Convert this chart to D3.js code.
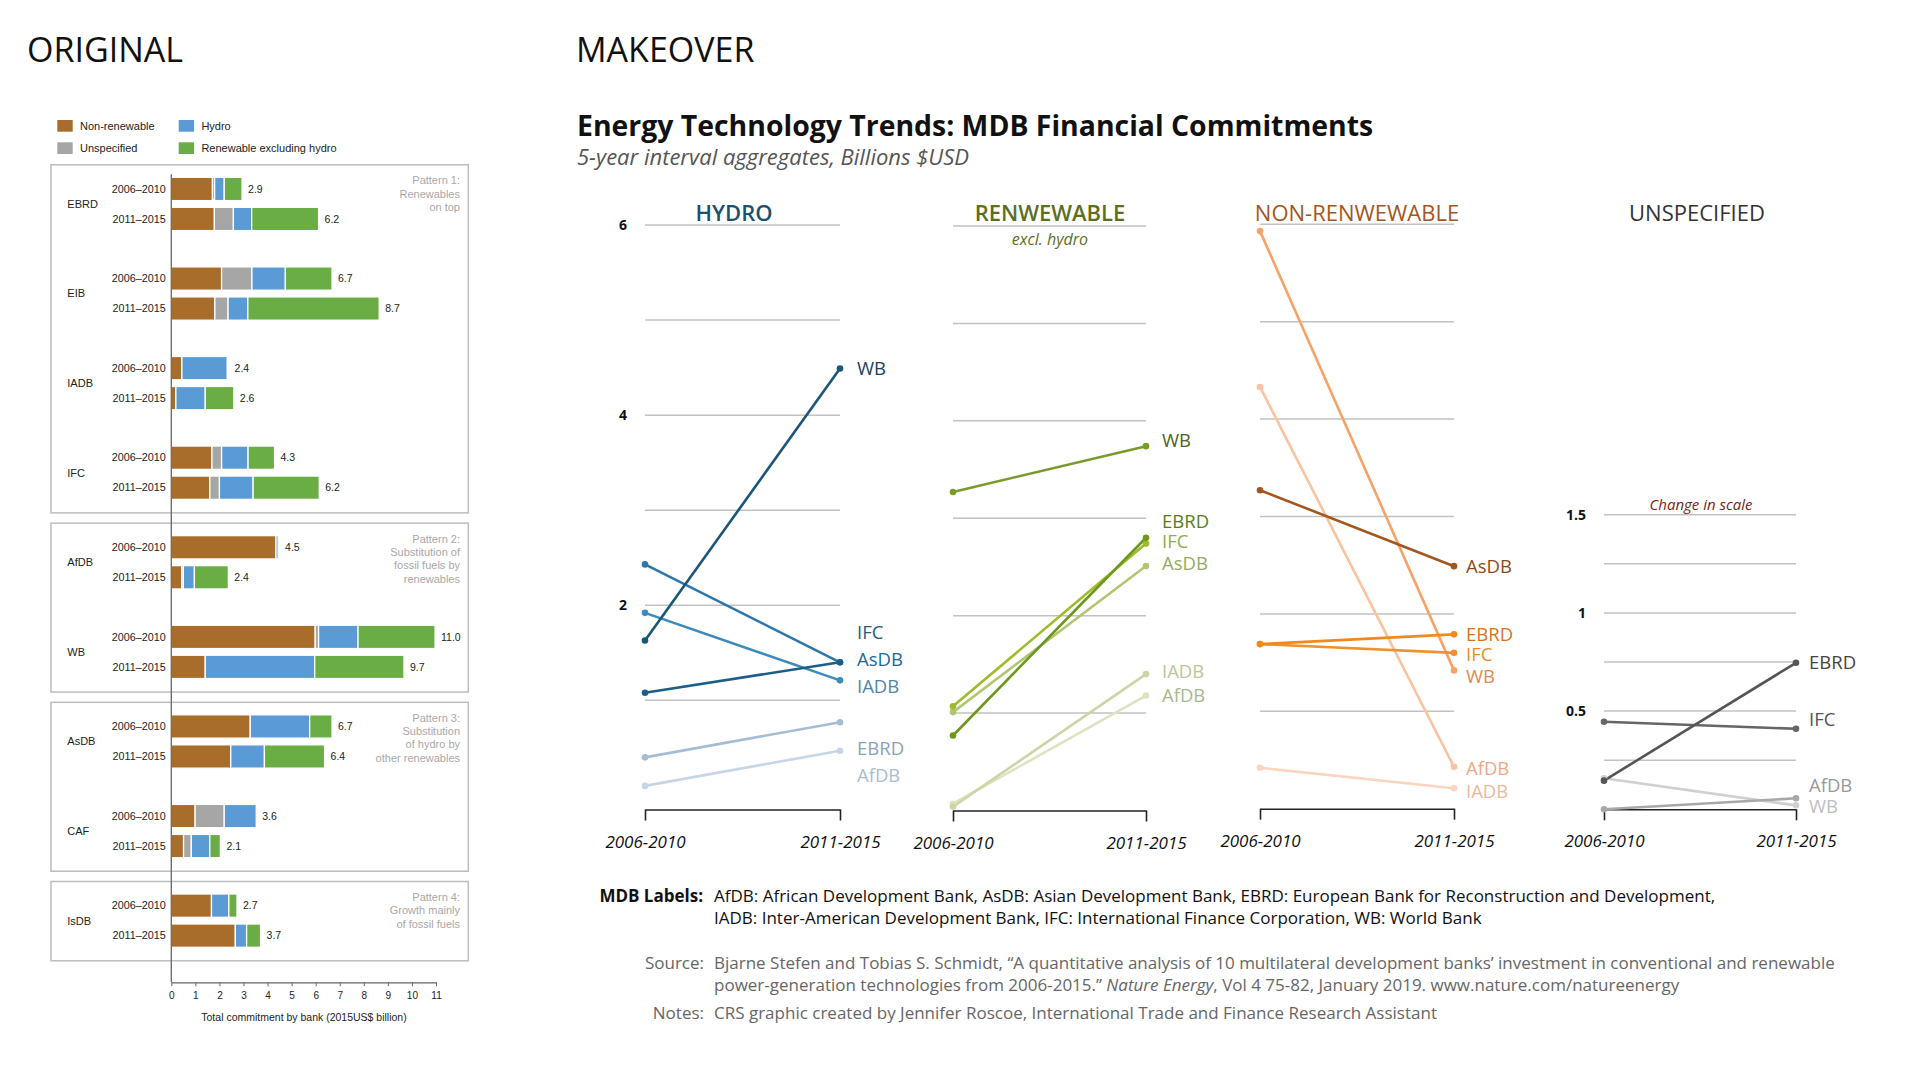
<!DOCTYPE html>
<html>
<head>
<meta charset="utf-8">
<script src="https://cdn.jsdelivr.net/npm/d3@7"></script>
<style>
  body { margin: 0; background: #fff; }
  svg text { font-family: "Open Sans", "Noto Sans", sans-serif; }
  svg .orig text { font-family: "Liberation Sans", Arial, sans-serif; }
</style>
</head>
<body>
<svg id="chart" width="1920" height="1088"></svg>
<script>
// ---------- data: ORIGINAL (stacked bars, billions 2015US$) ----------
const origBanks = ["EBRD", "EIB", "IADB", "IFC", "AfDB", "WB", "AsDB", "CAF", "IsDB"];
const origPeriods = ["2006–2010", "2011–2015"];
const origNonRen = [[1.71, 1.79], [2.09, 1.81], [0.44, 0.19], [1.69, 1.60], [4.35, 0.44], [5.98, 1.41], [3.28, 2.47], [0.99, 0.51], [1.67, 2.66]];
const origUnspec = [[0.09, 0.79], [1.26, 0.55], [0, 0], [0.40, 0.40], [0, 0.06], [0.14, 0], [0, 0], [1.21, 0.32], [0, 0]];
const origHydro = [[0.40, 0.76], [1.39, 0.82], [1.89, 1.22], [1.10, 1.40], [0.10, 0.46], [1.64, 4.55], [2.47, 1.40], [1.33, 0.77], [0.72, 0.47]];
const origRenew = [[0.74, 2.78], [1.94, 5.46], [0.05, 1.19], [1.10, 2.75], [0.03, 1.41], [3.20, 3.71], [0.93, 2.50], [0, 0.44], [0.34, 0.58]];
const origTotals = [["2.9", "6.2"], ["6.7", "8.7"], ["2.4", "2.6"], ["4.3", "6.2"], ["4.5", "2.4"], ["11.0", "9.7"], ["6.7", "6.4"], ["3.6", "2.1"], ["2.7", "3.7"]];
const origLegend = ["Non-renewable", "Hydro", "Unspecified", "Renewable excluding hydro"];
const origTicks = d3.range(0, 12);
const patternGroups = [[0, 3], [4, 5], [6, 7], [8, 8]];
const patternText = [
  ["Pattern 1:", "Renewables", "on top"],
  ["Pattern 2:", "Substitution of", "fossil fuels by", "renewables"],
  ["Pattern 3:", "Substitution", "of hydro by", "other renewables"],
  ["Pattern 4:", "Growth mainly", "of fossil fuels"]
];

// ---------- data: MAKEOVER (slope lines) ----------
const periods = ["2006-2010", "2011-2015"];
const hydroData = [
  {bank: "WB", v: [1.63, 4.49]},
  {bank: "IFC", v: [1.08, 1.40]},
  {bank: "AsDB", v: [2.43, 1.40]},
  {bank: "IADB", v: [1.92, 1.21]},
  {bank: "EBRD", v: [0.40, 0.77]},
  {bank: "AfDB", v: [0.10, 0.47]}
];
const renewData = [
  {bank: "WB", v: [3.27, 3.74]},
  {bank: "EBRD", v: [0.77, 2.80]},
  {bank: "IFC", v: [1.07, 2.74]},
  {bank: "AsDB", v: [1.01, 2.51]},
  {bank: "IADB", v: [0.04, 1.40]},
  {bank: "AfDB", v: [0.07, 1.18]}
];
const nonRenewData = [
  {bank: "AsDB", v: [3.27, 2.49]},
  {bank: "EBRD", v: [1.69, 1.79]},
  {bank: "IFC", v: [1.69, 1.60]},
  {bank: "WB", v: [5.93, 1.42]},
  {bank: "AfDB", v: [4.33, 0.43]},
  {bank: "IADB", v: [0.42, 0.21]}
];
const unspecData = [
  {bank: "EBRD", v: [0.146, 0.746]},
  {bank: "IFC", v: [0.446, 0.41]},
  {bank: "AfDB", v: [0, 0.056]},
  {bank: "WB", v: [0.158, 0.02]}
];

// ---------- layout / styles ----------
const panels = [
  {data: hydroData, title: "HYDRO", x0: 645, x1: 840, yTop: 225, yZero: 795.4, axisY: 809.5, max: 6, step: 1,
   ticks: [2, 4, 6], labelX: 857, titleX: 734, titleColor: "#1d4f6e", titleWeight: 600,
   labelAt: {WB: 4.49, IFC: 1.71, AsDB: 1.43, IADB: 1.15, EBRD: 0.49, AfDB: 0.21},
   colors: {WB: ["#1b5679", "#1b3f5a"], IFC: ["#1d5e88", "#1f5b84"], AsDB: ["#2b78a8", "#206a96"],
            IADB: ["#3d8bbd", "#4f86a8"], EBRD: ["#a5bdd4", "#8aa2ba"], AfDB: ["#c6d6e6", "#a9bdd0"]}},
  {data: renewData, title: "RENWEWABLE", sub: "excl. hydro", x0: 953, x1: 1146, yTop: 226, yZero: 810.5, axisY: 810.5, max: 6, step: 1,
   ticks: [], labelX: 1162, titleX: 1050, titleColor: "#5b6f1f", titleWeight: 600,
   labelAt: {WB: 3.80, EBRD: 2.97, IFC: 2.76, AsDB: 2.54, IADB: 1.43, AfDB: 1.18},
   colors: {WB: ["#7a9a2c", "#4e6420"], EBRD: ["#6c981c", "#5a7a1e"], IFC: ["#9dbb2a", "#8fad4a"],
            AsDB: ["#b1c674", "#93aa66"], IADB: ["#cbd6a6", "#b8c79c"], AfDB: ["#dde4c2", "#a8b88c"]}},
  {data: nonRenewData, title: "NON-RENWEWABLE", x0: 1260, x1: 1454, yTop: 224.3, yZero: 808.7, axisY: 808.7, max: 6, step: 1,
   ticks: [], labelX: 1466, titleX: 1357, titleColor: "#a4561c", titleWeight: 400,
   labelAt: {AsDB: 2.49, EBRD: 1.79, IFC: 1.58, WB: 1.36, AfDB: 0.41, IADB: 0.18},
   colors: {AsDB: ["#a3561e", "#8c4a1a"], EBRD: ["#ef8a1d", "#d87417"], IFC: ["#f2902c", "#ec8a2a"],
            WB: ["#f7a267", "#e08a4f"], AfDB: ["#fac3a0", "#eaa985"], IADB: ["#fbd5c0", "#ecb8a0"]}},
  {data: unspecData, title: "UNSPECIFIED", x0: 1604, x1: 1796, yTop: 514.7, yZero: 809.3, axisY: 809.3, max: 1.5, step: 0.25,
   ticks: [0.5, 1, 1.5], labelX: 1809, titleX: 1697, titleColor: "#333", titleWeight: 400,
   labelAt: {EBRD: 0.75, IFC: 0.46, AfDB: 0.124, WB: 0.013},
   colors: {EBRD: ["#555", "#444"], IFC: ["#666", "#555"], AfDB: ["#a8a8a8", "#999"], WB: ["#d0d0d0", "#c0c0c0"]}}
];
const segColors = {nonren: "#a86d2a", unspec: "#a6a6a6", hydro: "#5b9bd5", renew: "#6aad45"};

const svg = d3.select("#chart");

// ---------- headings ----------
svg.append("text").attr("x", 27).attr("y", 62).attr("font-size", 34).attr("fill", "#111").text("ORIGINAL");
svg.append("text").attr("x", 576).attr("y", 62).attr("font-size", 34).attr("fill", "#111").text("MAKEOVER");
svg.append("text").attr("x", 577).attr("y", 136).attr("font-size", 28.4).attr("font-weight", 700)
  .attr("fill", "#111").text("Energy Technology Trends: MDB Financial Commitments");
svg.append("text").attr("x", 577).attr("y", 165).attr("font-size", 22).attr("font-style", "italic")
  .attr("fill", "#555").text("5-year interval aggregates, Billions $USD");

// ---------- ORIGINAL chart ----------
const og = svg.append("g").attr("class", "orig");
const ox = d3.scaleLinear([0, 11], [171.3, 436]);
const oy = d3.scaleLinear([0, origBanks.length - 1], [177.3, 894]);
const barH = 23.3, barStep = 30;

// legend
const legendKeys = ["nonren", "hydro", "unspec", "renew"];
const legend = og.selectAll("g.leg").data(origLegend).join("g").attr("class", "leg")
  .attr("transform", (d, i) => `translate(${i % 2 ? 178.7 : 57.3},${i < 2 ? 120 : 142.3})`);
legend.append("rect").attr("width", 15.4).attr("height", 11.7).attr("fill", (d, i) => segColors[legendKeys[i]]);
legend.append("text").attr("x", 22.7).attr("y", 6).attr("dy", "0.35em").attr("font-size", 11).attr("fill", "#222").text(d => d);

// pattern boxes
patternGroups.forEach((g, k) => {
  const top = oy(g[0]) - 12.5, bottom = oy(g[1]) + barStep + barH + 13.5;
  og.append("rect").attr("x", 51).attr("y", top).attr("width", 417.3).attr("height", bottom - top)
    .attr("fill", "none").attr("stroke", "#bdbdbd").attr("stroke-width", 1.5);
  og.append("text").attr("text-anchor", "end").attr("font-size", 11).attr("fill", "#a8a8a8")
    .selectAll("tspan").data(patternText[k]).join("tspan")
    .attr("x", 460).attr("y", (d, j) => top + 19.5 + j * 13.3).text(d => d);
});

// stacked bars
const rows = origBanks.flatMap((b, i) => [0, 1].map(p => ({
  bank: b, i, p,
  nonren: origNonRen[i][p], unspec: origUnspec[i][p], hydro: origHydro[i][p], renew: origRenew[i][p]
})));
const stacked = d3.stack().keys(["nonren", "unspec", "hydro", "renew"])(rows);
og.selectAll("g.seg").data(stacked).join("g").attr("class", "seg")
  .attr("fill", d => segColors[d.key])
  .selectAll("rect").data(d => d.filter(s => s[1] - s[0] > 0)).join("rect")
  .attr("x", d => ox(d[0])).attr("width", d => ox(d[1]) - ox(d[0]))
  .attr("y", d => oy(d.data.i) + d.data.p * barStep).attr("height", barH)
  .attr("stroke", "#fff").attr("stroke-width", 1.3);

// totals
og.selectAll("text.tot").data(rows).join("text").attr("class", "tot")
  .attr("x", d => ox(d.nonren + d.unspec + d.hydro + d.renew) + 6)
  .attr("y", d => oy(d.i) + d.p * barStep + barH / 2).attr("dy", "0.35em")
  .attr("font-size", 10.5).attr("fill", "#222").text(d => origTotals[d.i][d.p]);

// period and bank labels
og.selectAll("text.per").data(rows).join("text").attr("class", "per")
  .attr("x", 165.7).attr("text-anchor", "end")
  .attr("y", d => oy(d.i) + d.p * barStep + barH / 2).attr("dy", "0.35em")
  .attr("font-size", 10.8).attr("fill", "#222").text(d => origPeriods[d.p]);
og.selectAll("text.bank").data(origBanks).join("text").attr("class", "bank")
  .attr("x", 67.3).attr("y", (d, i) => oy(i) + (barStep + barH) / 2).attr("dy", "0.35em")
  .attr("font-size", 11).attr("fill", "#222").text(d => d);

// axes
og.append("line").attr("x1", ox(0)).attr("x2", ox(0)).attr("y1", 174.3).attr("y2", 982.3)
  .attr("stroke", "#666").attr("stroke-width", 1.3);
const oAxis = og.append("g").attr("transform", "translate(0,982.3)")
  .call(d3.axisBottom(ox).tickValues(origTicks).tickFormat(d3.format("d")).tickSize(4).tickSizeOuter(0).tickPadding(6));
oAxis.select(".domain").attr("stroke", "#666").attr("stroke-width", 1.3);
oAxis.selectAll(".tick line").attr("stroke", "#666");
oAxis.selectAll(".tick text").attr("font-size", 10).attr("fill", "#222")
  .attr("font-family", "'Liberation Sans', Arial, sans-serif");
og.append("text").attr("x", 304).attr("y", 1017).attr("dy", "0.35em").attr("text-anchor", "middle")
  .attr("font-size", 10.5).attr("fill", "#222").text("Total commitment by bank (2015US$ billion)");

// ---------- MAKEOVER panels ----------
panels.forEach(pn => {
  const g = svg.append("g");
  const x = d3.scalePoint(periods, [pn.x0, pn.x1]);
  const y = d3.scaleLinear([0, pn.max], [pn.yZero, pn.yTop]);

  // gridlines
  g.selectAll("line.grid").data(d3.range(pn.step, pn.max + 1e-9, pn.step)).join("line").attr("class", "grid")
    .attr("x1", pn.x0).attr("x2", pn.x1).attr("y1", d => y(d)).attr("y2", d => y(d))
    .attr("stroke", "#c2c2c2").attr("stroke-width", 1.5);

  // value labels on the left
  g.selectAll("text.yt").data(pn.ticks).join("text").attr("class", "yt")
    .attr("x", pn.x0 - 18).attr("y", d => y(d)).attr("dy", "0.35em").attr("text-anchor", "end")
    .attr("font-size", 14).attr("font-weight", 700).attr("fill", "#111").text(d => d);

  // bracket axis
  const ax = g.append("g").attr("transform", `translate(0,${pn.axisY})`)
    .call(d3.axisBottom(x).tickSizeInner(11).tickSizeOuter(0).tickPadding(15));
  ax.select(".domain").attr("stroke", "#222").attr("stroke-width", 1.6);
  ax.selectAll(".tick line").attr("stroke", "#222").attr("stroke-width", 1.6);
  ax.selectAll(".tick text").attr("font-size", 17).attr("font-style", "italic").attr("fill", "#111")
    .attr("font-family", "'Open Sans', sans-serif");

  // titles
  g.append("text").attr("x", pn.titleX).attr("y", 221).attr("text-anchor", "middle")
    .attr("font-size", 22).attr("font-weight", pn.titleWeight).attr("fill", pn.titleColor).text(pn.title);
  if (pn.sub) {
    g.append("text").attr("x", pn.titleX).attr("y", 245).attr("text-anchor", "middle")
      .attr("font-size", 16).attr("font-style", "italic").attr("fill", pn.titleColor).text(pn.sub);
  }

  // slope lines
  const line = d3.line().x((d, i) => x(periods[i])).y(d => y(d));
  const series = pn.data.slice().reverse();
  g.selectAll("path.slope").data(series).join("path").attr("class", "slope")
    .attr("d", d => line(d.v)).attr("fill", "none")
    .attr("stroke", d => pn.colors[d.bank][0]).attr("stroke-width", 2.6);
  series.forEach(s => {
    g.selectAll(null).data(s.v).join("circle")
      .attr("cx", (d, i) => x(periods[i])).attr("cy", d => y(d)).attr("r", 3.3)
      .attr("fill", pn.colors[s.bank][0]);
  });

  // bank labels
  g.selectAll("text.lab").data(pn.data).join("text").attr("class", "lab")
    .attr("x", pn.labelX).attr("y", d => y(pn.labelAt[d.bank])).attr("dy", "0.36em")
    .attr("font-size", 18.5).attr("fill", d => pn.colors[d.bank][1]).text(d => d.bank);
});

svg.append("text").attr("x", 1701).attr("y", 510).attr("text-anchor", "middle")
  .attr("font-size", 15).attr("font-style", "italic").attr("fill", "#7b2318").text("Change in scale");

// ---------- notes ----------
const notes = svg.append("g").attr("font-size", 17);
notes.append("text").attr("x", 703).attr("y", 902).attr("text-anchor", "end").attr("font-weight", 700)
  .attr("fill", "#111").text("MDB Labels:");
notes.append("text").attr("x", 714).attr("y", 902).attr("fill", "#111")
  .text("AfDB: African Development Bank, AsDB: Asian Development Bank, EBRD: European Bank for Reconstruction and Development,");
notes.append("text").attr("x", 714).attr("y", 924).attr("fill", "#111")
  .text("IADB: Inter-American Development Bank, IFC: International Finance Corporation, WB: World Bank");
notes.append("text").attr("x", 704).attr("y", 968.5).attr("text-anchor", "end").attr("fill", "#666").text("Source:");
notes.append("text").attr("x", 714).attr("y", 968.5).attr("fill", "#666")
  .text("Bjarne Stefen and Tobias S. Schmidt, \u201CA quantitative analysis of 10 multilateral development banks\u2019 investment in conventional and renewable");
const src2 = notes.append("text").attr("x", 714).attr("y", 990.5).attr("fill", "#666");
src2.append("tspan").text("power-generation technologies from 2006-2015.\u201D ");
src2.append("tspan").attr("font-style", "italic").text("Nature Energy");
src2.append("tspan").text(", Vol 4 75-82, January 2019. www.nature.com/natureenergy");
notes.append("text").attr("x", 704).attr("y", 1019).attr("text-anchor", "end").attr("fill", "#666").text("Notes:");
notes.append("text").attr("x", 714).attr("y", 1019).attr("fill", "#666")
  .text("CRS graphic created by Jennifer Roscoe, International Trade and Finance Research Assistant");
</script>
</body>
</html>
